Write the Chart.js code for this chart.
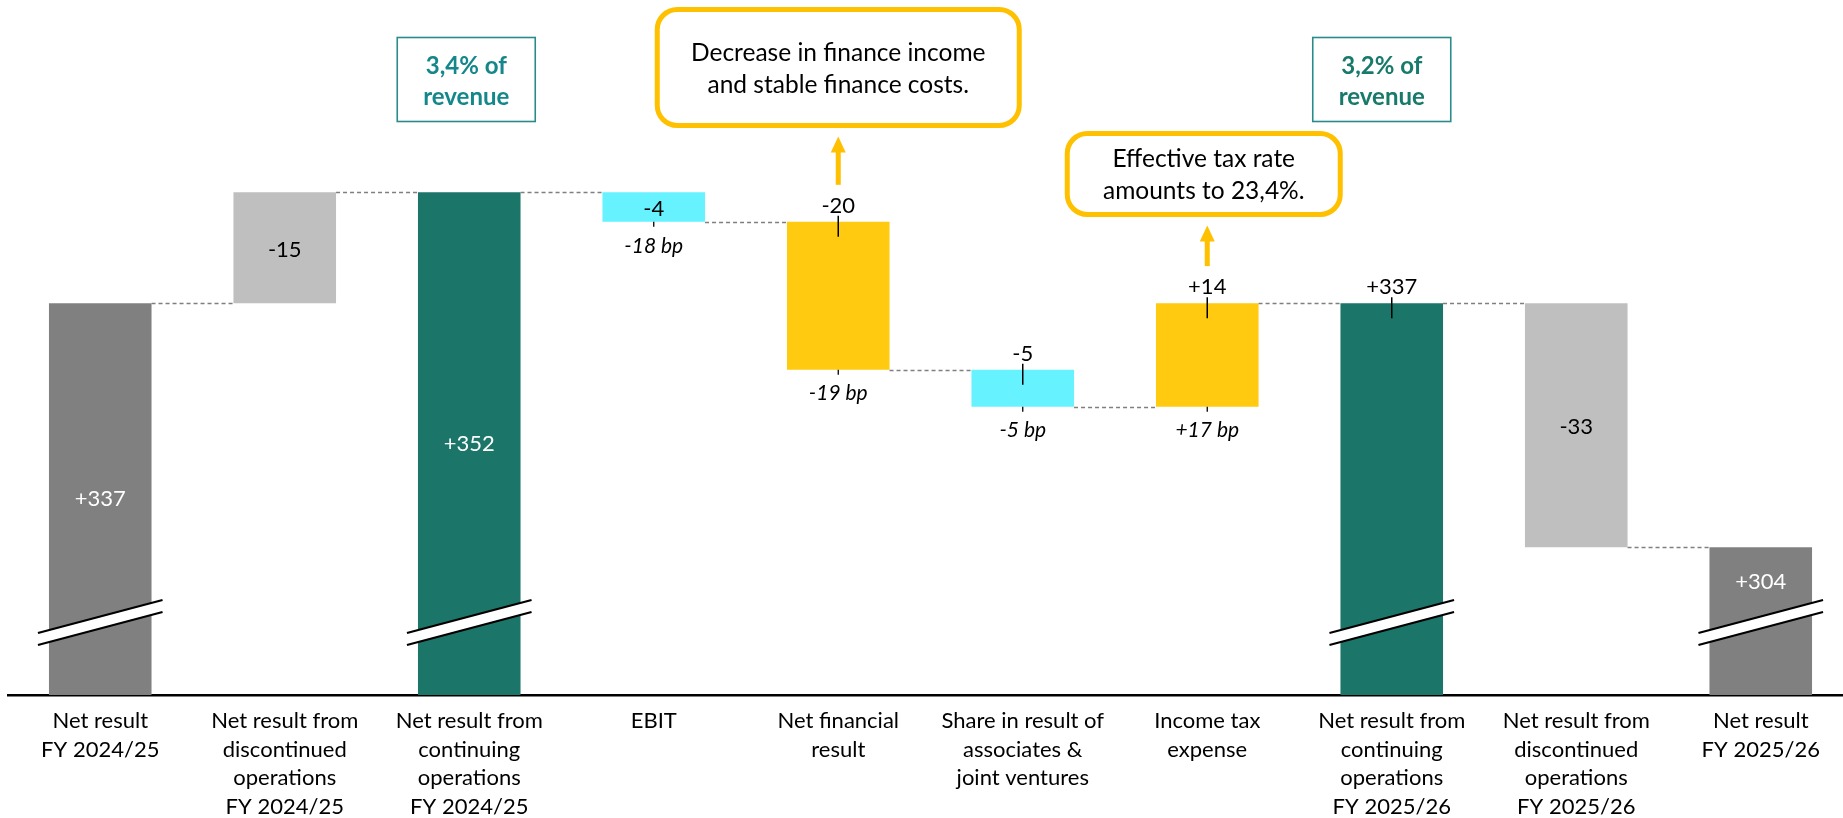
<!DOCTYPE html>
<html>
<head>
<meta charset="utf-8">
<title>Net result bridge FY 2024/25 to FY 2025/26</title>
<script src="https://cdn.jsdelivr.net/npm/chart.js@4.4.1/dist/chart.umd.min.js"></script>
<style>
    html, body { margin: 0; padding: 0; background: #fff; overflow: hidden; }
    #wrap { position: relative; width: 1853px; height: 818px; }
</style>
</head>
<body>
<div id="wrap"><canvas id="bridgeChart" width="1853" height="818"></canvas></div>
<script>
// Bridge steps (EUR m)
const categories = [
    ['Net result', 'FY 2024/25'],
    ['Net result from', 'discontinued', 'operations', 'FY 2024/25'],
    ['Net result from', 'continuing', 'operations', 'FY 2024/25'],
    ['EBIT'],
    ['Net financial', 'result'],
    ['Share in result of', 'associates &', 'joint ventures'],
    ['Income tax', 'expense'],
    ['Net result from', 'continuing', 'operations', 'FY 2025/26'],
    ['Net result from', 'discontinued', 'operations', 'FY 2025/26'],
    ['Net result', 'FY 2025/26']
];
const values = [337, -15, 352, -4, -20, -5, 14, 337, -33, 304];
// total = full bar, reverse = item taken out of the previous total, delta = normal step
const stepTypes = ['total', 'reverse', 'total', 'delta', 'delta', 'delta', 'delta', 'total', 'delta', 'total'];
const marginLabels = [null, null, null, '-18 bp', '-19 bp', '-5 bp', '+17 bp', null, null, null];
const revenueNotes = [['3,4% of', 'revenue'], ['3,2% of', 'revenue']];
const callouts = [['Decrease in finance income', 'and stable finance costs.'], ['Effective tax rate', 'amounts to 23,4%.']];

// axis is cut, only the upper part of the totals is shown
const Y_MIN = 284;
const Y_MAX = 378;

const barColors = ['#808080', '#bfbfbf', '#1b7569', '#66f2ff', '#ffca0f', '#66f2ff', '#ffca0f', '#1b7569', '#bfbfbf', '#808080'];
const labelMode = ['totalInside', 'inside', 'totalInside', 'inside', 'above', 'above', 'above', 'above', 'inside', 'totalInside'];

// floating ranges + running level after each bar
let running = 0;
const levels = [];
const ranges = values.map((v, i) => {
    if (stepTypes[i] === 'total') {
        running = v;
        levels.push(running);
        return [0, v];
    }
    const next = stepTypes[i] === 'reverse' ? running - v : running + v;
    const r = [Math.min(running, next), Math.max(running, next)];
    running = next;
    levels.push(running);
    return r;
});

function fmt(v) {
    return (v > 0 ? '+' : '') + v;
}

function roundRect(ctx, x, y, w, h, r) {
    ctx.beginPath();
    ctx.moveTo(x + r, y);
    ctx.lineTo(x + w - r, y);
    ctx.arcTo(x + w, y, x + w, y + r, r);
    ctx.lineTo(x + w, y + h - r);
    ctx.arcTo(x + w, y + h, x + w - r, y + h, r);
    ctx.lineTo(x + r, y + h);
    ctx.arcTo(x, y + h, x, y + h - r, r);
    ctx.lineTo(x, y + r);
    ctx.arcTo(x, y, x + r, y, r);
    ctx.closePath();
}

function arrowUp(ctx, x, tip, bottom) {
    ctx.save();
    ctx.fillStyle = '#ffc000';
    ctx.fillRect(x - 2.5, tip + 15, 5, bottom - tip - 15);
    ctx.beginPath();
    ctx.moveTo(x, tip);
    ctx.lineTo(x + 7.5, tip + 16);
    ctx.lineTo(x - 7.5, tip + 16);
    ctx.closePath();
    ctx.fill();
    ctx.restore();
}

const bridgeDecor = {
    id: 'bridgeDecor',
    afterDatasetsDraw(chart) {
        const { ctx, chartArea, scales: { y } } = chart;
        const bars = chart.getDatasetMeta(0).data;
        const geo = bars.map((bar, i) => {
            const left = bar.x - bar.width / 2;
            const right = bar.x + bar.width / 2;
            const top = y.getPixelForValue(ranges[i][1]);
            const bottom = Math.min(y.getPixelForValue(ranges[i][0]), chartArea.bottom);
            return { cx: bar.x, left, right, top, bottom };
        });

        ctx.save();

        // dashed connectors between neighbouring bars
        ctx.strokeStyle = '#7f7f7f';
        ctx.lineWidth = 1.3;
        ctx.setLineDash([4, 3]);
        for (let i = 0; i < geo.length - 1; i++) {
            const ly = Math.round(y.getPixelForValue(levels[i])) + 0.5;
            ctx.beginPath();
            ctx.moveTo(geo[i].right, ly);
            ctx.lineTo(geo[i + 1].left, ly);
            ctx.stroke();
        }
        ctx.setLineDash([]);

        // axis break marks on the totals
        const breakLeft = chartArea.bottom - 62;
        const breakRight = chartArea.bottom - 95;
        const gap = 12;
        geo.forEach((g, i) => {
            if (stepTypes[i] !== 'total') return;
            const x1 = g.left - 11, x2 = g.right + 11;
            ctx.fillStyle = '#fff';
            ctx.beginPath();
            ctx.moveTo(x1, breakLeft);
            ctx.lineTo(x2, breakRight);
            ctx.lineTo(x2, breakRight + gap);
            ctx.lineTo(x1, breakLeft + gap);
            ctx.closePath();
            ctx.fill();
            ctx.strokeStyle = '#000';
            ctx.lineWidth = 2.2;
            ctx.beginPath();
            ctx.moveTo(x1, breakLeft);
            ctx.lineTo(x2, breakRight);
            ctx.moveTo(x1, breakLeft + gap);
            ctx.lineTo(x2, breakRight + gap);
            ctx.stroke();
        });

        // value labels
        ctx.textAlign = 'center';
        ctx.textBaseline = 'middle';
        ctx.font = '22px Lato';
        geo.forEach((g, i) => {
            const text = fmt(values[i]);
            const mode = labelMode[i];
            if (mode === 'totalInside') {
                const breakMid = (breakLeft + breakRight) / 2;
                let ty = (g.top + chartArea.bottom) / 2;
                if (ty > breakMid - 30) ty = (g.top + breakMid) / 2;
                ctx.fillStyle = '#fff';
                ctx.fillText(text, g.cx, ty);
            } else if (mode === 'inside') {
                ctx.fillStyle = '#000';
                ctx.fillText(text, g.cx, (g.top + g.bottom) / 2 + 2);
            } else {
                ctx.fillStyle = '#000';
                ctx.fillText(text, g.cx, g.top - 16);
                ctx.strokeStyle = '#000';
                ctx.lineWidth = 1.5;
                ctx.beginPath();
                ctx.moveTo(g.cx, g.top - 6);
                ctx.lineTo(g.cx, g.top + 15);
                ctx.stroke();
            }
        });

        // margin effect in basis points below the P&L steps
        ctx.font = 'italic 21px Lato';
        geo.forEach((g, i) => {
            if (!marginLabels[i]) return;
            ctx.strokeStyle = '#000';
            ctx.lineWidth = 1.3;
            ctx.beginPath();
            ctx.moveTo(g.cx, g.bottom);
            ctx.lineTo(g.cx, g.bottom + 5);
            ctx.stroke();
            ctx.fillStyle = '#000';
            ctx.fillText(marginLabels[i], g.cx, g.bottom + 24);
        });

        // share of revenue boxes above the continuing result bars
        const noteBars = [2, 7];
        const noteShift = [-3, -10];
        const noteColors = ['#14878a', '#177a6b'];
        ctx.font = 'bold 24px Lato';
        noteBars.forEach((b, k) => {
            const cx = geo[b].cx + noteShift[k];
            ctx.strokeStyle = '#2b8b8b';
            ctx.lineWidth = 1.6;
            ctx.strokeRect(cx - 69, 37.5, 138, 84);
            ctx.fillStyle = noteColors[k];
            ctx.fillText(revenueNotes[k][0], cx, 66);
            ctx.fillText(revenueNotes[k][1], cx, 97);
        });

        // yellow comment boxes with arrows
        const calloutBoxes = [
            { bar: 4, shift: 0, top: 9.5, w: 362, h: 116, lines: [53, 85] },
            { bar: 6, shift: -3.5, top: 133.5, w: 273, h: 81, lines: [159, 191] }
        ];
        ctx.font = '24.5px Lato';
        calloutBoxes.forEach((c, k) => {
            const cx = geo[c.bar].cx + c.shift;
            ctx.strokeStyle = '#ffc000';
            ctx.lineWidth = 5;
            roundRect(ctx, cx - c.w / 2, c.top, c.w, c.h, 20);
            ctx.stroke();
            ctx.fillStyle = '#000';
            ctx.fillText(callouts[k][0], cx, c.lines[0]);
            ctx.fillText(callouts[k][1], cx, c.lines[1]);
            arrowUp(ctx, geo[c.bar].cx, c.top + c.h + 11, geo[c.bar].top - 37);
        });

        ctx.restore();
    }
};

function drawChart() {
    const ctx = document.getElementById('bridgeChart').getContext('2d');
    new Chart(ctx, {
        type: 'bar',
        data: {
            labels: categories,
            datasets: [{
                data: ranges,
                backgroundColor: barColors,
                barPercentage: 0.556,
                categoryPercentage: 1,
                clip: 0
            }]
        },
        options: {
            responsive: false,
            animation: false,
            layout: { padding: { left: 8, right: 0, top: 0, bottom: 0 } },
            plugins: {
                legend: { display: false },
                tooltip: { enabled: false }
            },
            scales: {
                x: {
                    grid: { display: false, drawTicks: false },
                    border: { display: true, color: '#000', width: 2.5 },
                    ticks: {
                        color: '#000',
                        padding: 12,
                        autoSkip: false,
                        maxRotation: 0,
                        font: { family: 'Lato', size: 22, lineHeight: 1.295 }
                    },
                    afterFit: function(scale) {
                        scale.height = 123;
                    }
                },
                y: {
                    display: false,
                    min: Y_MIN,
                    max: Y_MAX
                }
            }
        },
        plugins: [bridgeDecor]
    });
}

Promise.all([
    document.fonts.load('22px Lato'),
    document.fonts.load('italic 21px Lato'),
    document.fonts.load('bold 24px Lato')
]).then(drawChart, drawChart);
</script>
</body>
</html>
